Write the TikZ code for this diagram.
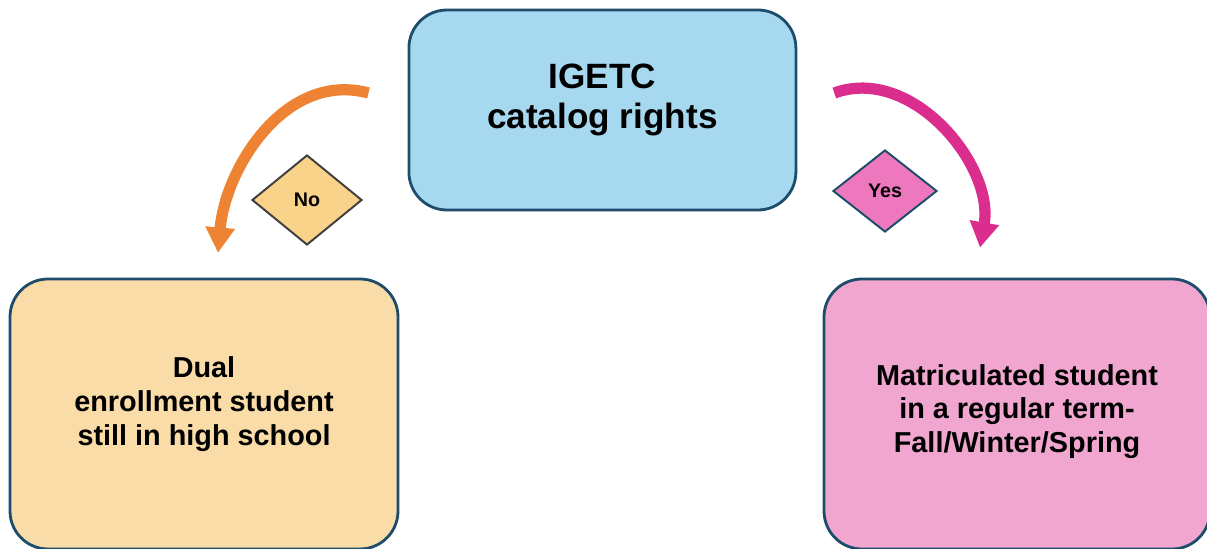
\documentclass[tikz,border=0pt]{standalone}
\usepackage{fontspec}
\setmainfont{Liberation Sans}
\usetikzlibrary{shapes.geometric,arrows.meta}

\definecolor{boxline}{HTML}{1E4D6B}
\definecolor{igetcblue}{HTML}{A6D8F0}
\definecolor{dualpeach}{HTML}{F9DCA8}
\definecolor{matricpink}{HTML}{F1A6D0}
\definecolor{nogold}{HTML}{F9D38A}
\definecolor{yespink}{HTML}{EE78BE}
\definecolor{noorange}{HTML}{EE8433}
\definecolor{yesmagenta}{HTML}{DB2D8E}

\tikzset{
    rbox/.style={draw=boxline, line width=2pt, rounded corners=0.95cm, inner sep=0pt},
    boxtext/.style={align=center, font=\bfseries\fontsize{20.5}{24}\selectfont},
    choice/.style={diamond, draw, line width=1.4pt, inner sep=0pt, font=\bfseries\fontsize{14}{16}\selectfont},
    bendarrow/.style={line width=8pt, -{Triangle[width=20pt,length=18pt]}}
}

\begin{document}
\begin{tikzpicture}
                    \useasboundingbox (0,0) rectangle (30.175,13.7);
                    \node[rbox, fill=igetcblue, minimum width=9.675cm, minimum height=5cm] (igetc) at (15.06,10.95) {};
                    \node[rbox, fill=dualpeach, minimum width=9.7cm, minimum height=6.75cm] (dual) at (5.1,3.35) {};
                    \node[rbox, fill=matricpink, minimum width=9.65cm, minimum height=6.75cm] (matric) at (25.425,3.35) {};
                    \node[boxtext, font=\bfseries\fontsize{25}{29}\selectfont] at ([yshift=0.25cm]igetc.center) {IGETC\\catalog rights};
                    \node[boxtext] at ([yshift=0.25cm]dual.center) {Dual\\enrollment student\\still in high school};
                    \node[boxtext] at ([yshift=0.06cm]matric.center) {Matriculated student\\in a regular term-\\Fall/Winter/Spring};
                    \node[choice, fill=nogold, draw=darkgray, minimum width=2.75cm, minimum height=2.25cm] (no) at (7.675,8.7) {No};
                    \node[choice, fill=yespink, draw=boxline, minimum width=2.6cm, minimum height=2.05cm] (yes) at (22.125,8.925) {Yes};
                    \coordinate (notail) at ([shift={(-0.975,0.425)}]igetc.west);
                    \coordinate (notip) at ([shift={(0.35,0.62)}]dual.north);
                    \coordinate (yestail) at ([shift={(0.925,0.425)}]igetc.east);
                    \coordinate (yestip) at ([shift={(-0.925,0.75)}]matric.north);
                    \draw[bendarrow, noorange] (notail) to[out=165,in=85] (notip);
                    \draw[bendarrow, yesmagenta] (yestail) to[out=20,in=80] (yestip);
                \end{tikzpicture}
\end{document}
